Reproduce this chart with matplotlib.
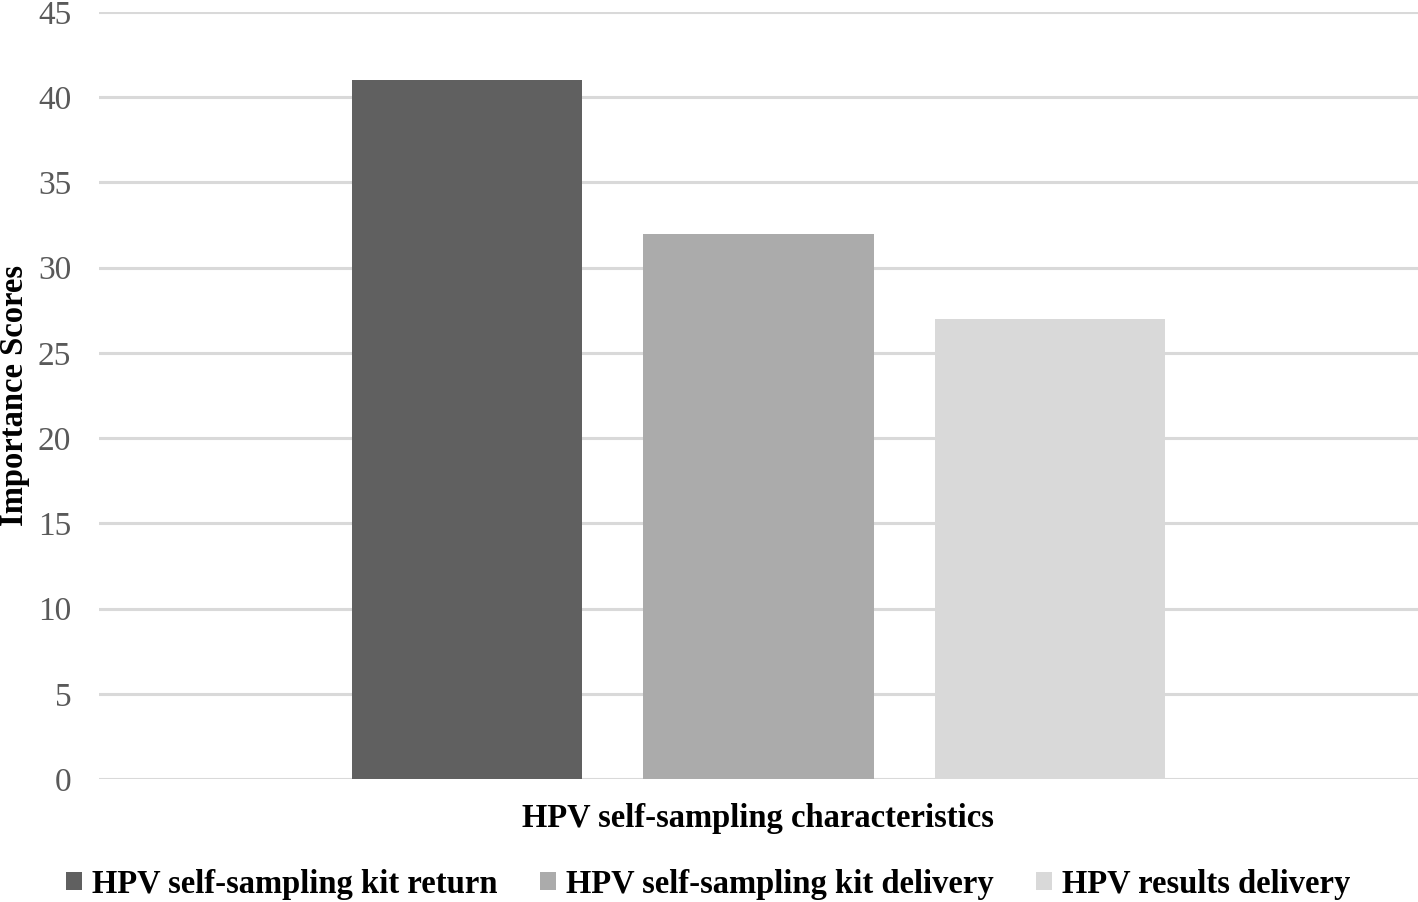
import matplotlib
matplotlib.use("Agg")
import matplotlib.pyplot as plt
import numpy as np

categories = ["HPV self-sampling kit return", "HPV self-sampling kit delivery", "HPV results delivery"]
values = [41, 32, 27]
colors = ["#606060", "#ababab", "#d9d9d9"]
yticks = [0, 5, 10, 15, 20, 25, 30, 35, 40, 45]

plt.rcParams['font.family'] = ['Liberation Serif', 'DejaVu Serif']

fig = plt.figure(figsize=(14.18, 9.02), dpi=100)
ax = fig.add_axes([99/1418, 1 - 779/902, (1418-99)/1418, (779-12)/902])

x = np.arange(len(categories)) - 1
for xi, v, c, lab in zip(x, values, colors, categories):
    ax.bar(xi, v, width=0.788, color=c, label=lab, zorder=3)

ax.set_ylim(0, 45)
ax.set_xlim(-2.259, 2.259)
ax.set_yticks(yticks)
ax.set_yticklabels([str(t) for t in yticks], fontsize=24, color="#595959")
ax.set_xticks([])
ax.tick_params(axis='y', length=0, pad=20)
ax.grid(axis='y', color="#d9d9d9", linewidth=2.2, zorder=0)
for s in ax.spines.values():
    s.set_visible(False)

fig.text(15/1418, 1 - 395/902, "Importance Scores", rotation=90, fontsize=23.5,
         fontweight='bold', ha='center', va='center')
fig.text(758/1418, 1 - 818/902, "HPV self-sampling characteristics", fontsize=23.5,
         fontweight='bold', ha='center', va='center')

leg = fig.legend(loc='center', bbox_to_anchor=(708/1418, 1 - 884/902), ncol=3,
                 frameon=False, prop={'weight': 'bold', 'size': 23.5},
                 handlelength=0.5, handleheight=0.5, handletextpad=0.3, columnspacing=1.3)

fig.savefig("out.png", dpi=100)
